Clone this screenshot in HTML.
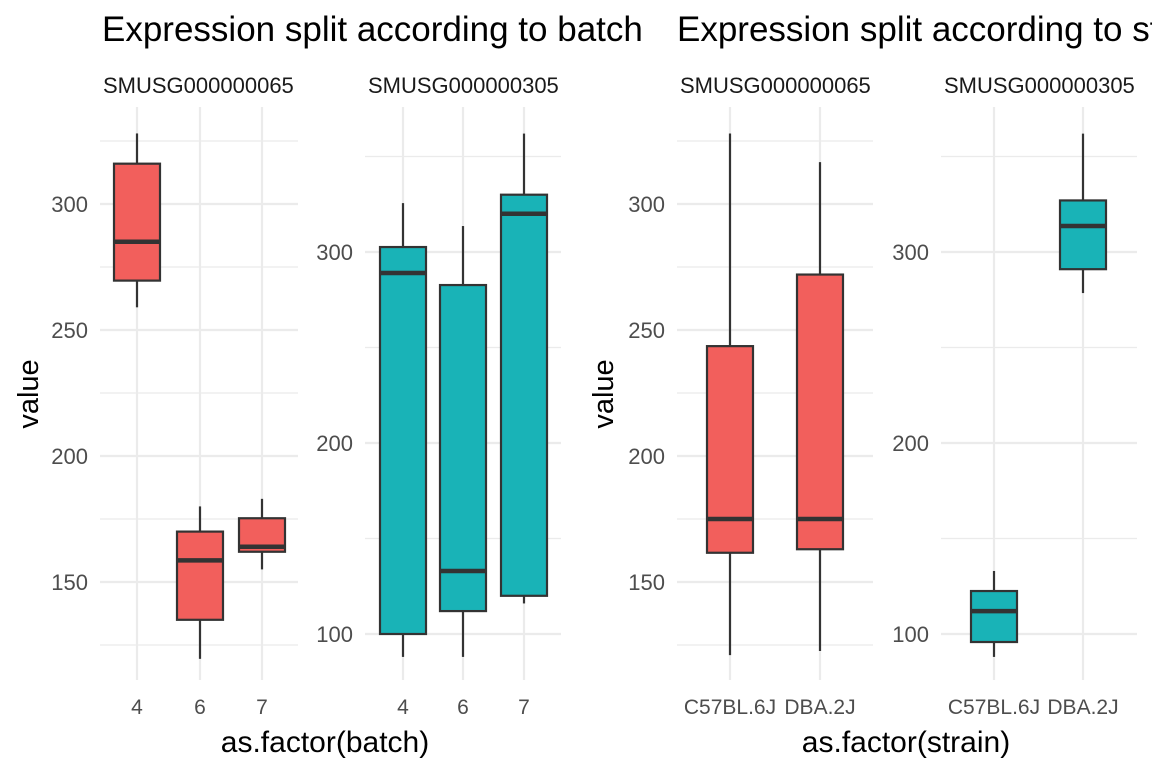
<!DOCTYPE html>
<html><head><meta charset="utf-8"><style>
body{margin:0;background:#fff;overflow:hidden;}
svg text{font-family:"Liberation Sans",Arial,sans-serif;}
</style></head><body>
<svg id="c" width="1152" height="768" xmlns="http://www.w3.org/2000/svg">
<text x="102" y="41" font-size="35" fill="#000">Expression split according to batch</text>
<text x="677" y="41" font-size="35" fill="#000">Expression split according to strain</text>
<text x="325" y="752" font-size="30" text-anchor="middle" fill="#000">as.factor(batch)</text>
<text x="906" y="752" font-size="30" text-anchor="middle" fill="#000">as.factor(strain)</text>
<text transform="translate(38,394) rotate(-90)" font-size="29" text-anchor="middle" fill="#000">value</text>
<text transform="translate(613,394) rotate(-90)" font-size="29" text-anchor="middle" fill="#000">value</text>
</svg>
<script>
const batchCats=["4","6","7"];
const strainCats=["C57BL.6J","DBA.2J"];
const geneA="SMUSG000000065";
const geneB="SMUSG000000305";
// [lowWhisker, Q1, median, Q3, highWhisker]
const p1Stats=[[259,269.6,285,316,328],[119.5,135,158.6,170,180],[155,162,164,175.3,183]];
const p2Stats=[[88,100,289,302.6,325.6],[88,112,133,282.7,313.6],[116,120,320,330,362]];
const p3Stats=[[121,161.6,175,243.6,328],[122.6,163,175,272,316.6]];
const p4Stats=[[88,95.8,112,122.5,133],[278.5,291,313.6,327,362]];
const ticksA=[150,200,250,300];
const ticksB=[100,200,300];
const NS="http://www.w3.org/2000/svg";
const svg=document.getElementById('c');
function mk(t,a){const e=document.createElementNS(NS,t);for(const k in a)e.setAttribute(k,a[k]);svg.appendChild(e);return e;}
const TOP=107,BOT=680;
function panel(id,x0,x1,cats,catX,stats,ticks,refV,refY,pxPer,minor,color,gene){
  const y=v=>refY-(v-refV)*pxPer;
  const cp=mk('clipPath',{id:'cp'+id});const r=document.createElementNS(NS,'rect');r.setAttribute('x',x0);r.setAttribute('y',0);r.setAttribute('width',x1-x0);r.setAttribute('height',768);cp.appendChild(r);
  for(const m of minor){const yy=y(m);if(yy<TOP||yy>BOT)continue;const l=mk('line',{x1:x0,x2:x1,y1:yy,y2:yy,stroke:'#ebebeb','stroke-width':1.2});
    
    }
  for(const t of ticks){const yy=y(t);const l=mk('line',{x1:x0,x2:x1,y1:yy,y2:yy,stroke:'#ebebeb','stroke-width':2.2});
    
    
    const tx=mk('text',{x:x0-12,y:yy+8,'font-size':22,'text-anchor':'end',fill:'#4d4d4d'});tx.textContent=t;
    
    }
  cats.forEach((c,i)=>{const xx=catX[i];const l=mk('line',{x1:xx,x2:xx,y1:TOP,y2:BOT,stroke:'#ebebeb','stroke-width':2.2});
    
    
    const tx=mk('text',{x:xx,y:714,'font-size':21,'text-anchor':'middle',fill:'#4d4d4d'});tx.textContent=c;
    
    });
  const st=mk('text',{x:x0+3,y:93,'font-size':22,fill:'#1a1a1a','clip-path':'url(#cp'+id+')'});st.textContent=gene;
  
  
  const hw=23;
  stats.forEach((s,i)=>{const xx=catX[i];
    const g=mk('g',{});
    
    
    const a=(t,o)=>{const e=document.createElementNS(NS,t);for(const k in o)e.setAttribute(k,o[k]);g.appendChild(e);return e;};
    a('line',{x1:xx,x2:xx,y1:y(s[4]),y2:y(s[3]),stroke:'#333','stroke-width':2.2});
    a('line',{x1:xx,x2:xx,y1:y(s[1]),y2:y(s[0]),stroke:'#333','stroke-width':2.2});
    a('rect',{x:xx-hw,y:y(s[3]),width:2*hw,height:y(s[1])-y(s[3]),fill:color,stroke:'#333','stroke-width':2.2});
    a('line',{x1:xx-hw,x2:xx+hw,y1:y(s[2]),y2:y(s[2]),stroke:'#333','stroke-width':4.5});
  });
}
panel('1',100,298,batchCats,[137,200,262],p1Stats,ticksA,300,204,2.52,[125,175,225,275,325],'#f25f5c',geneA);
panel('2',365,561,batchCats,[403,463,524],p2Stats,ticksB,300,252,1.91,[150,250,350],'#19b3b7',geneB);
panel('3',677,873,strainCats,[730,820],p3Stats,ticksA,300,204,2.52,[125,175,225,275,325],'#f25f5c',geneA);
panel('4',941,1137,strainCats,[994,1083],p4Stats,ticksB,300,252,1.91,[150,250,350],'#19b3b7',geneB);
</script>
</body></html>
